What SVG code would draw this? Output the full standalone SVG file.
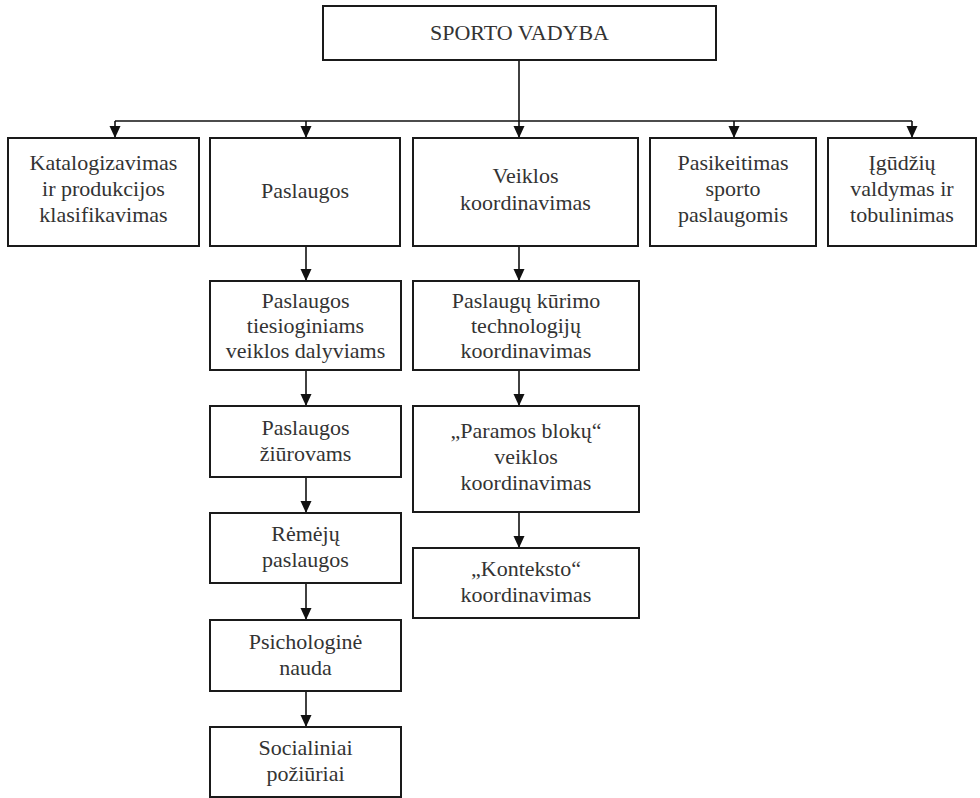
<svg xmlns="http://www.w3.org/2000/svg" width="980" height="798" viewBox="0 0 980 798">
  <style>
    .box { fill: #ffffff; stroke: #1a1a1a; stroke-width: 2; }
    .conn { fill: none; stroke: #111111; stroke-width: 1.6; }
    text { font-family: 'Liberation Serif', 'Times New Roman', serif; font-size: 22px; fill: #333333; text-anchor: middle; }
  </style>
  <defs>
    <marker id="arrow" markerUnits="userSpaceOnUse" markerWidth="13" markerHeight="12" refX="12" refY="5.5" orient="auto">
      <path d="M0,0 L12,5.5 L0,11 z" fill="#111111"/>
    </marker>
  </defs>

  <rect width="980" height="798" fill="#ffffff"/>

  <!-- connectors -->
  <g id="connectors">
    <path class="conn" d="M519,60 V138" marker-end="url(#arrow)"/>
    <path class="conn" d="M115,121 H912"/>
    <path class="conn" d="M115,121 V138" marker-end="url(#arrow)"/>
    <path class="conn" d="M306,121 V138" marker-end="url(#arrow)"/>
    <path class="conn" d="M734,121 V138" marker-end="url(#arrow)"/>
    <path class="conn" d="M912,121 V138" marker-end="url(#arrow)"/>
    <!-- Paslaugos branch -->
    <path class="conn" d="M306,246 V281" marker-end="url(#arrow)"/>
    <path class="conn" d="M306,370 V406" marker-end="url(#arrow)"/>
    <path class="conn" d="M306,477 V513" marker-end="url(#arrow)"/>
    <path class="conn" d="M306,583 V620" marker-end="url(#arrow)"/>
    <path class="conn" d="M306,691 V727" marker-end="url(#arrow)"/>
    <!-- Veiklos koordinavimas branch -->
    <path class="conn" d="M519,246 V281" marker-end="url(#arrow)"/>
    <path class="conn" d="M519,370 V406" marker-end="url(#arrow)"/>
    <path class="conn" d="M519,512 V548" marker-end="url(#arrow)"/>
  </g>

  <g id="sporto-vadyba">
    <rect class="box" x="323" y="6" width="393" height="54"/>
    <text x="519.5" y="40" font-family="Times New Roman">SPORTO VADYBA</text>
  </g>

  <g id="katalogizavimas">
    <rect class="box" x="8" y="138" width="191" height="108"/>
    <text x="103.5" y="170">Katalogizavimas</text>
    <text x="103.5" y="196">ir produkcijos</text>
    <text x="103.5" y="222">klasifikavimas</text>
  </g>

  <g id="paslaugos">
    <rect class="box" x="210" y="138" width="190" height="108"/>
    <text x="305" y="198">Paslaugos</text>
  </g>

  <g id="veiklos-koordinavimas">
    <rect class="box" x="413" y="138" width="225" height="108"/>
    <text x="525.5" y="183">Veiklos</text>
    <text x="525.5" y="210">koordinavimas</text>
  </g>

  <g id="pasikeitimas">
    <rect class="box" x="650" y="138" width="166" height="108"/>
    <text x="733" y="170">Pasikeitimas</text>
    <text x="733" y="196">sporto</text>
    <text x="733" y="222">paslaugomis</text>
  </g>

  <g id="igudziu-valdymas">
    <rect class="box" x="828" y="138" width="148" height="108"/>
    <text x="902" y="170">Įgūdžių</text>
    <text x="902" y="196">valdymas ir</text>
    <text x="902" y="222">tobulinimas</text>
  </g>

  <g id="paslaugos-dalyviams">
    <rect class="box" x="210" y="281" width="191" height="89"/>
    <text x="305.5" y="308">Paslaugos</text>
    <text x="305.5" y="333">tiesioginiams</text>
    <text x="305.5" y="358">veiklos dalyviams</text>
  </g>

  <g id="paslaugos-ziurovams">
    <rect class="box" x="210" y="406" width="191" height="71"/>
    <text x="305.5" y="435">Paslaugos</text>
    <text x="305.5" y="461">žiūrovams</text>
  </g>

  <g id="remeju-paslaugos">
    <rect class="box" x="210" y="513" width="191" height="70"/>
    <text x="305.5" y="541">Rėmėjų</text>
    <text x="305.5" y="567">paslaugos</text>
  </g>

  <g id="psichologine-nauda">
    <rect class="box" x="210" y="620" width="191" height="71"/>
    <text x="305.5" y="649">Psichologinė</text>
    <text x="305.5" y="675">nauda</text>
  </g>

  <g id="socialiniai-poziuriai">
    <rect class="box" x="210" y="727" width="191" height="70"/>
    <text x="305.5" y="755">Socialiniai</text>
    <text x="305.5" y="781">požiūriai</text>
  </g>

  <g id="paslaugu-kurimo">
    <rect class="box" x="413" y="281" width="226" height="89"/>
    <text x="526" y="308">Paslaugų kūrimo</text>
    <text x="526" y="333">technologijų</text>
    <text x="526" y="358">koordinavimas</text>
  </g>

  <g id="paramos-bloku">
    <rect class="box" x="413" y="406" width="226" height="106"/>
    <text x="526" y="438">„Paramos blokų“</text>
    <text x="526" y="464">veiklos</text>
    <text x="526" y="490">koordinavimas</text>
  </g>

  <g id="konteksto">
    <rect class="box" x="413" y="548" width="226" height="70"/>
    <text x="526" y="576">„Konteksto“</text>
    <text x="526" y="602">koordinavimas</text>
  </g>
</svg>
